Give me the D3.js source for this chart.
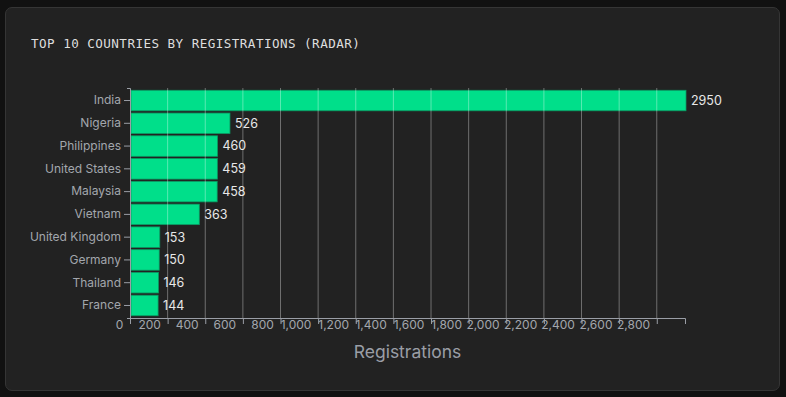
<!DOCTYPE html>
<html>
<head>
<meta charset="utf-8">
<script src="https://cdn.jsdelivr.net/npm/d3@7"></script>
<style>
  html, body { margin: 0; padding: 0; background: #111111; }
  #card {
    position: absolute; left: 5px; top: 7px; width: 773px; height: 382px;
    background: #222222; border: 1px solid #353535; border-radius: 7px;
  }
  #title {
    position: absolute; left: 25px; top: 28px;
    font-family: "DejaVu Sans Mono", monospace; font-size: 12.6px;
    letter-spacing: 0.45px; color: #dedede;
  }
  svg { position: absolute; left: 0; top: 0; }
  .axis text { font-family: Inter, "Noto Sans", sans-serif; font-size: 12px; fill: #a3a7ad; }
  .axis path, .axis line { stroke: #9a9ea6; }
</style>
</head>
<body>
<div id="card"><div id="title">TOP 10 COUNTRIES BY REGISTRATIONS (RADAR)</div></div>
<svg id="chart" width="786" height="397"></svg>
<script>
// data
var countries = ["India", "Nigeria", "Philippines", "United States", "Malaysia",
  "Vietnam", "United Kingdom", "Germany", "Thailand", "France"];
var registrations = [2950, 526, 460, 459, 458, 363, 153, 150, 146, 144];
var xTicks = [0, 200, 400, 600, 800, 1000, 1200, 1400, 1600, 1800, 2000, 2200, 2400, 2600, 2800];

var margin = { top: 88, right: 101, bottom: 79, left: 130 };
var width = 786 - margin.left - margin.right;
var height = 397 - margin.top - margin.bottom;

var data = countries.map(function (c, i) {
  return { country: c, value: registrations[i] };
});

var svg = d3.select("#chart");
var g = svg.append("g").attr("transform", "translate(" + margin.left + "," + margin.top + ")");

var x = d3.scaleLinear().domain([0, d3.max(registrations)]).range([0, width]);
var y = d3.scaleBand().domain(countries).range([0, height]).padding(0.1);

// bars
g.selectAll("rect.bar")
  .data(data)
  .enter()
  .append("rect")
  .attr("class", "bar")
  .attr("x", 1)
  .attr("y", function (d) { return y(d.country); })
  .attr("width", function (d) { return x(d.value); })
  .attr("height", y.bandwidth())
  .attr("fill", "#00df8a")
  .attr("stroke", "#0b9a63")
  .attr("stroke-width", 0.8);

// gridlines over the bars
g.selectAll("line.grid")
  .data(xTicks.slice(1))
  .enter()
  .append("line")
  .attr("class", "grid")
  .attr("x1", function (d) { return x(d); })
  .attr("x2", function (d) { return x(d); })
  .attr("y1", 0)
  .attr("y2", height)
  .attr("stroke", "#ffffff")
  .attr("stroke-opacity", 0.35);

// value labels
g.selectAll("text.val")
  .data(data)
  .enter()
  .append("text")
  .attr("class", "val")
  .attr("x", function (d) { return x(d.value) + 6; })
  .attr("y", function (d) { return y(d.country) + y.bandwidth() / 2; })
  .attr("dy", "0.35em")
  .attr("font-family", "Inter, 'Noto Sans', sans-serif")
  .attr("font-size", 12.5)
  .attr("fill", "#e8e8e8")
  .text(function (d) { return d.value; });

// axes
var yAxis = g.append("g").attr("class", "axis").call(d3.axisLeft(y).tickSizeOuter(3));
yAxis.selectAll("text").attr("x", -9);

var xAxis = g.append("g")
  .attr("class", "axis")
  .attr("transform", "translate(0," + height + ")")
  .call(d3.axisBottom(x).tickValues(xTicks).tickFormat(d3.format(",")));
xAxis.selectAll(".tick text")
  .attr("text-anchor", "end")
  .attr("dx", "-0.6em")
  .attr("y", 7)
  .attr("dy", "0.32em");

// axis title
svg.append("text")
  .attr("x", margin.left + width / 2)
  .attr("y", 358)
  .attr("text-anchor", "middle")
  .attr("font-family", "Inter, 'Noto Sans', sans-serif")
  .attr("font-size", 17.5)
  .attr("fill", "#9a9ea6")
  .text("Registrations");
</script>
</body>
</html>
